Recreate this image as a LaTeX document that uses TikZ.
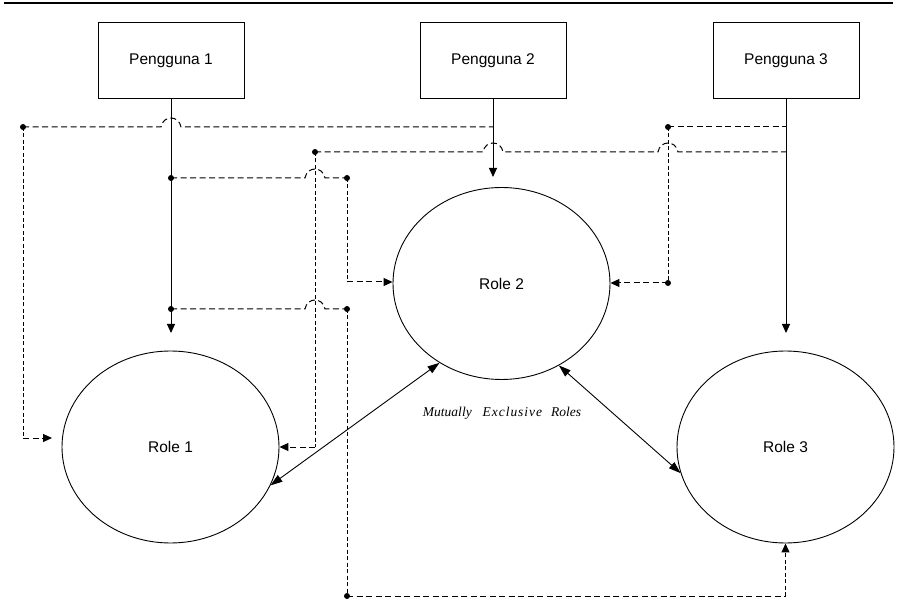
\documentclass[tikz,border=0pt]{standalone}
\usepackage{fontspec}
\setmainfont{Liberation Sans}
\newfontfamily\capfont{Liberation Serif}
\newfontfamily\capls[LetterSpace=7]{Liberation Serif}
\usetikzlibrary{arrows.meta,shapes.geometric}
\tikzset{
  user/.style={draw, line width=1pt, minimum width=146pt, minimum height=76pt, inner sep=0pt, font=\fontsize{15.5}{18}\selectfont},
  role/.style={draw, ellipse, line width=0.9pt, minimum width=217pt, minimum height=192pt, inner sep=0pt, font=\fontsize{15.5}{18}\selectfont},
  sol/.style={line width=0.9pt},
  hd/.style={line width=1pt, dash pattern=on 6pt off 3.5pt},
  vd/.style={line width=1pt, dash pattern=on 4pt off 2.5pt},
  tip/.style={-{Triangle[length=9pt,width=8pt]}},
  both/.style={{Triangle[length=12pt,width=8pt]}-{Triangle[length=12pt,width=8pt]}},
  hop/.style 2 args={insert path={-- (#1-10,#2) .. controls (#1-8,#2-12) and (#1+8,#2-12) .. (#1+10,#2)}},
  dotr/.style={fill=black}
}
\begin{document}
\begin{tikzpicture}[x=1pt,y=-1pt]
\useasboundingbox (0,0) rectangle (897,601);
% top rule
\coordinate (tl) at (4,3);
\coordinate (tr) at (893,3);
\draw[line width=1.6pt] (tl) -- (tr);

% users
\node[user] (p1) at (171,61) {Pengguna 1};
\node[user] (p2) at (493,61) {Pengguna 2};
\node[user] (p3) at (786,61) {Pengguna 3};

% roles
\node[role] (r1) at (170.5,447) {Role 1};
\node[role] (r2) at (501.5,283.5) {Role 2};
\node[role] (r3) at (785.5,447) {Role 3};

% label
\node (lbl) at (502,413) {\fontsize{13.5}{15}\selectfont{\capfont\itshape Mutually}\hspace{11pt}{\capls\itshape Exclusive}\hspace{9pt}{\capfont\itshape Roles}};

% coordinates
\coordinate (a1) at (171,333);
\coordinate (a2) at (493,177);
\coordinate (a3) at (786,333);
\coordinate (c1) at (23,127);
\coordinate (c1b) at (23,438);
\coordinate (c1e) at (52,438);
\coordinate (j2a) at (493,127);
\coordinate (c2) at (315,152);
\coordinate (j3b) at (786,152);
\coordinate (c2b) at (315,447);
\coordinate (j1a) at (171,178);
\coordinate (c3) at (347,178);
\coordinate (c3b) at (347,282);
\coordinate (j1b) at (171,309);
\coordinate (c4) at (347,309);
\coordinate (c4b) at (347,596);
\coordinate (c4c) at (785.5,596);
\coordinate (c5) at (668,127);
\coordinate (j3a) at (786,127);
\coordinate (c5b) at (668,283);

% solid user arrows
\draw[sol,tip] (p1.south) -- (a1);
\draw[sol,tip] (p2.south) -- (a2);
\draw[sol,tip] (p3.south) -- (a3);

% dashed connectors
\draw[hd] (c1) [hop={171}{127}] -- (j2a);
\draw[vd] (c1) -- (c1b);
\draw[hd,tip] (c1b) -- (c1e);

\draw[hd] (c2) [hop={493}{152}] [hop={668}{152}] -- (j3b);
\draw[vd] (c2) -- (c2b);
\draw[hd,tip] (c2b) -- (r1.east);

\draw[hd] (j1a) [hop={315}{178}] -- (c3);
\draw[vd] (c3) -- (c3b);
\draw[hd,tip] (c3b) -- (r2.west |- c3b);

\draw[hd] (j1b) [hop={315}{309}] -- (c4);
\draw[vd] (c4) -- (c4b);
\draw[hd] (c4b) -- (c4c);
\draw[vd,tip] (c4c) -- (r3.south);

\draw[hd] (c5) -- (j3a);
\draw[vd] (c5) -- (c5b);
\draw[hd,tip] (c5b) -- (r2.east |- c5b);

% mutually exclusive arrows
\draw[sol,both] (r1.-21) -- (r2.232);
\draw[sol,both] (r2.-55) -- (r3.194);

% dots
\foreach \d in {c1,c2,j1a,c3,j1b,c4,c4b,c5,c5b}
  \fill[dotr] (\d) circle (3pt);
\end{tikzpicture}
\end{document}
